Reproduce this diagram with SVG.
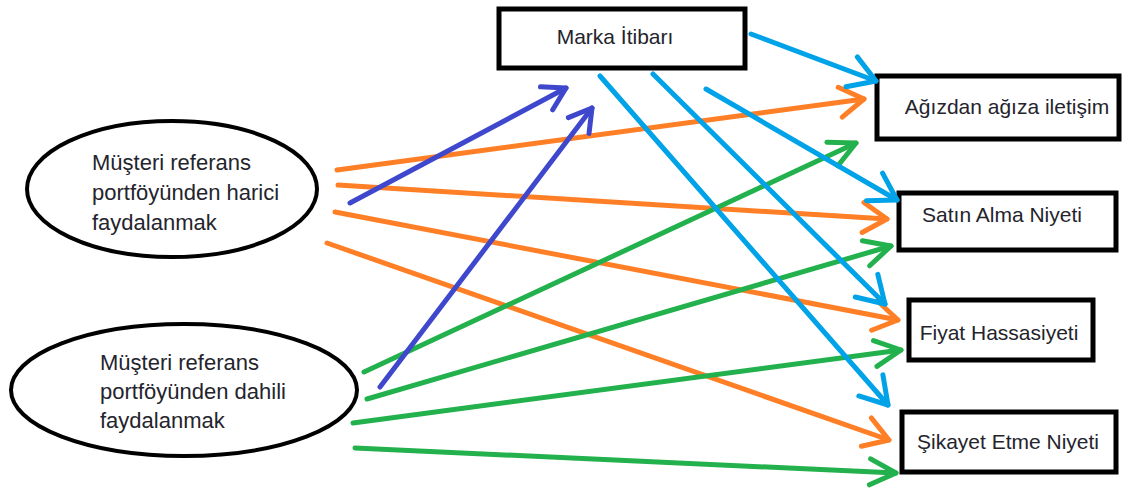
<svg xmlns="http://www.w3.org/2000/svg" width="1123" height="489" viewBox="0 0 1123 489">
  <style>
    .box { fill: #ffffff; stroke: #000000; stroke-width: 5; }
    .oval { fill: #ffffff; stroke: #000000; stroke-width: 4; }
    .label { font-family: "Liberation Sans", Arial, sans-serif; font-size: 21px; fill: #24242c; }
    .big { font-size: 22px; }
    .mid { text-anchor: middle; }
    .link { fill: none; stroke-width: 5; stroke-linecap: round; }
    .orange { stroke: #ff7f27; }
    .green { stroke: #22b14c; }
    .sky { stroke: #00a2e8; }
    .indigo { stroke: #3f48cc; }
    .head { fill: none; stroke-width: 5; stroke-linecap: round; stroke-linejoin: round; }
  </style>
  <defs>
    <marker id="ah-orange" markerUnits="userSpaceOnUse" viewBox="-30 -20 34 40" refX="0" refY="0" markerWidth="34" markerHeight="40" orient="auto" overflow="visible">
      <path class="head" stroke="#ff7f27" d="M -24 -15 L 0 0 L -24 15"/>
    </marker>
    <marker id="ah-green" markerUnits="userSpaceOnUse" viewBox="-30 -20 34 40" refX="0" refY="0" markerWidth="34" markerHeight="40" orient="auto" overflow="visible">
      <path class="head" stroke="#22b14c" d="M -26 -13 L 0 0 L -26 13"/>
    </marker>
    <marker id="ah-sky" markerUnits="userSpaceOnUse" viewBox="-30 -20 34 40" refX="0" refY="0" markerWidth="34" markerHeight="40" orient="auto" overflow="visible">
      <path class="head" stroke="#00a2e8" d="M -26 -16 L 0 0 L -26 16"/>
    </marker>
    <marker id="ah-indigo" markerUnits="userSpaceOnUse" viewBox="-30 -20 34 40" refX="0" refY="0" markerWidth="34" markerHeight="40" orient="auto" overflow="visible">
      <path class="head" stroke="#3f48cc" d="M -22 -13 L 0 0 L -22 13"/>
    </marker>
  </defs>

  <rect width="1123" height="489" fill="#ffffff"/>

  <!-- source ovals -->
  <g id="node-harici">
    <ellipse class="oval" cx="172" cy="189" rx="145" ry="68"/>
    <text class="label big" x="92" y="170">Müşteri referans</text>
    <text class="label big" x="92" y="200">portföyünden harici</text>
    <text class="label big" x="92" y="230">faydalanmak</text>
  </g>
  <g id="node-dahili">
    <ellipse class="oval" cx="184" cy="390" rx="173" ry="66"/>
    <text class="label big" x="100" y="370">Müşteri referans</text>
    <text class="label big" x="100" y="399">portföyünden dahili</text>
    <text class="label big" x="100" y="428">faydalanmak</text>
  </g>

  <!-- mediator -->
  <g id="node-marka">
    <rect class="box" x="499" y="9" width="246" height="59"/>
    <text class="label mid" x="615" y="44">Marka İtibarı</text>
  </g>

  <!-- outcomes -->
  <g id="node-agizdan">
    <rect class="box" x="877" y="76" width="242" height="63"/>
    <text class="label mid" x="1007" y="114">Ağızdan ağıza iletişim</text>
  </g>
  <g id="node-satin">
    <rect class="box" x="899" y="193" width="217" height="57"/>
    <text class="label mid" x="1002" y="222">Satın Alma Niyeti</text>
  </g>
  <g id="node-fiyat">
    <rect class="box" x="909" y="300" width="184" height="60"/>
    <text class="label mid" x="999" y="340">Fiyat Hassasiyeti</text>
  </g>
  <g id="node-sikayet">
    <rect class="box" x="902" y="412" width="214" height="60"/>
    <text class="label mid" x="1008" y="449">Şikayet Etme Niyeti</text>
  </g>

  <!-- connectors -->
  <g id="connectors">
    <!-- harici -> outcomes -->
    <line class="link orange" x1="337" y1="170" x2="864" y2="99" marker-end="url(#ah-orange)"/>
    <line class="link orange" x1="338" y1="185" x2="887" y2="219" marker-end="url(#ah-orange)"/>
    <line class="link orange" x1="335" y1="212" x2="898" y2="320" marker-end="url(#ah-orange)"/>
    <line class="link orange" x1="327" y1="243" x2="889" y2="440" marker-end="url(#ah-orange)"/>

    <!-- dahili -> outcomes -->
    <line class="link green" x1="364" y1="372" x2="856" y2="143" marker-end="url(#ah-green)"/>
    <line class="link green" x1="367" y1="399" x2="891" y2="246" marker-end="url(#ah-green)"/>
    <line class="link green" x1="353" y1="423" x2="901" y2="350" marker-end="url(#ah-green)"/>
    <line class="link green" x1="355" y1="448" x2="896" y2="473" marker-end="url(#ah-green)"/>

    <!-- sources -> Marka İtibarı -->
    <line class="link indigo" x1="350" y1="203" x2="566" y2="88" marker-end="url(#ah-indigo)"/>
    <line class="link indigo" x1="380" y1="387" x2="592" y2="108" marker-end="url(#ah-indigo)"/>

    <!-- Marka İtibarı -> outcomes -->
    <line class="link sky" x1="751" y1="34" x2="876" y2="81" marker-end="url(#ah-sky)"/>
    <line class="link sky" x1="706" y1="89" x2="897" y2="200" marker-end="url(#ah-sky)"/>
    <line class="link sky" x1="653" y1="74" x2="885" y2="304" marker-end="url(#ah-sky)"/>
    <line class="link sky" x1="600" y1="76" x2="888" y2="405" marker-end="url(#ah-sky)"/>
  </g>
</svg>
